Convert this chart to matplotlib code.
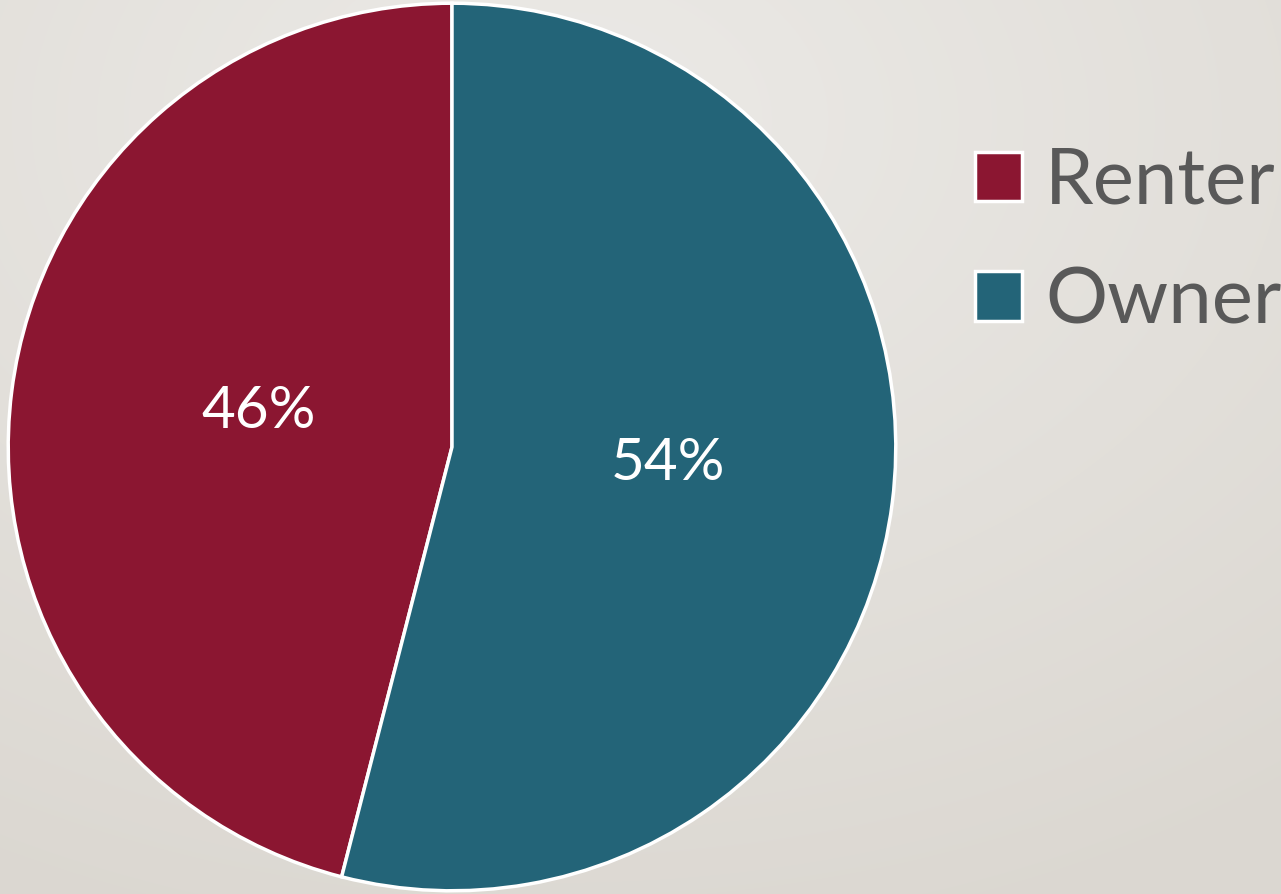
import numpy as np
import matplotlib
matplotlib.use("Agg")
import matplotlib.pyplot as plt
from matplotlib.patches import Patch

categories = ["Renter", "Owner"]
values = [46, 54]
colors = ["#8B1631", "#236478"]

plt.rcParams['font.family'] = ['Lato', 'DejaVu Sans']

W, H = 1281, 894
fig = plt.figure(figsize=(W / 100, H / 100), dpi=100)

# background gradient
bg = fig.add_axes([0, 0, 1, 1])
yy, xx = np.mgrid[0:H, 0:W]
d = np.sqrt(((xx - 560) / W) ** 2 + ((yy - 120) / H) ** 2)
d = np.clip(d / 0.95, 0, 1)
c0 = np.array([0.925, 0.918, 0.905])
c1 = np.array([0.860, 0.845, 0.820])
img = c0[None, None, :] * (1 - d[..., None]) + c1[None, None, :] * d[..., None]
bg.imshow(img, aspect='auto', extent=[0, 1, 0, 1], origin='upper')
bg.axis('off')

cx, cy, r = 452, 447, 446
ax = fig.add_axes([(cx - r) / W, (H - cy - r) / H, 2 * r / W, 2 * r / H])
wedges, texts, autotexts = ax.pie(
    values, colors=colors, startangle=90, counterclock=True,
    autopct=lambda p: f"{p:.0f}%", pctdistance=0.45,
    wedgeprops=dict(edgecolor='white', linewidth=2.5),
    textprops=dict(color='white', fontsize=42))
label_dist = [0.44, 0.49]
for w, t, dd in zip(wedges, autotexts, label_dist):
    th = np.deg2rad((w.theta1 + w.theta2) / 2)
    t.set_position((dd * np.cos(th), dd * np.sin(th) + 0.025))
ax.set_aspect('equal')
ax.set_xlim(-1.005, 1.005)
ax.set_ylim(-1.005, 1.005)

handles = [Patch(facecolor=c, edgecolor='white', linewidth=2.5) for c in colors]
leg = fig.legend(handles, categories, loc='upper left',
                 bbox_to_anchor=(975 / W, 1 - 147 / H),
                 frameon=False, fontsize=56, handlelength=0.6, handleheight=0.6,
                 handletextpad=0.3, labelspacing=0.62, borderaxespad=0, borderpad=0)
for t in leg.get_texts():
    t.set_color('#595959')

fig.savefig("out.png", dpi=100)
